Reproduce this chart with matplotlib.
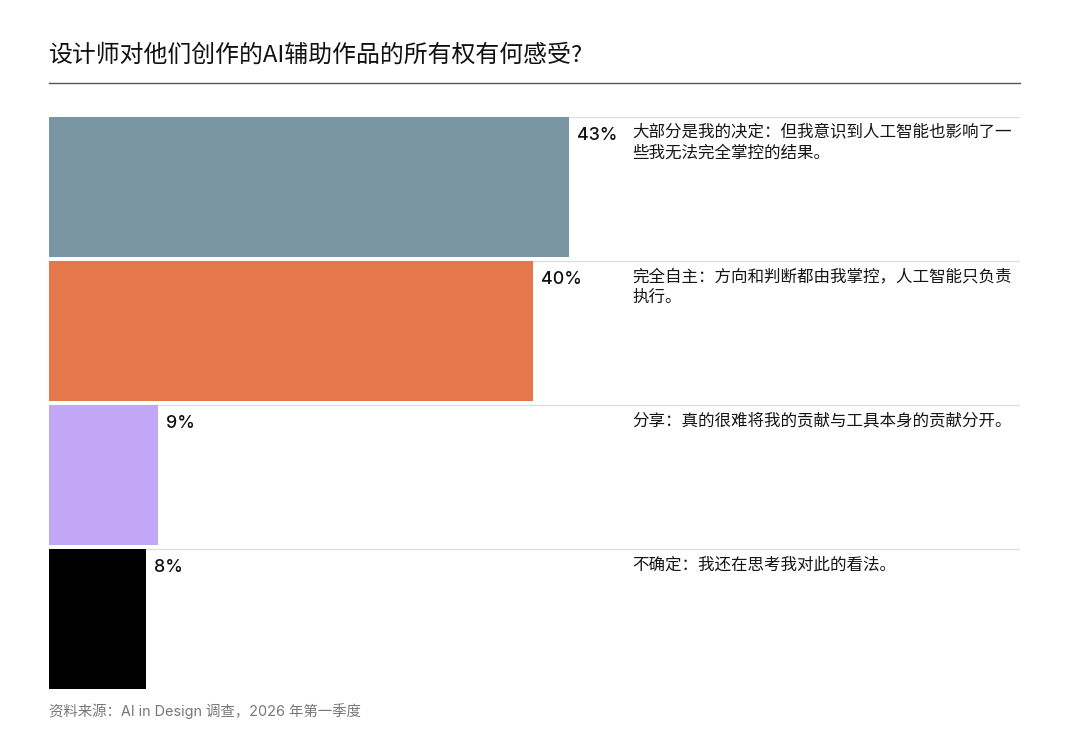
import matplotlib
matplotlib.use('Agg')
import matplotlib.pyplot as plt

plt.rcParams['font.family'] = ['Noto Sans CJK SC', 'DejaVu Sans']

# data
categories = [
    "大部分是我的决定：但我意识到人工智能也影响了一\n些我无法完全掌控的结果。",
    "完全自主：方向和判断都由我掌控，人工智能只负责\n执行。",
    "分享：真的很难将我的贡献与工具本身的贡献分开。",
    "不确定：我还在思考我对此的看法。",
]
values = [43, 40, 9, 8]
labels = ["43%", "40%", "9%", "8%"]
colors = ["#7a96a3", "#e5784a", "#c3a7f7", "#000000"]

title = "设计师对他们创作的AI辅助作品的所有权有何感受?"
source = "资料来源：AI in Design 调查，2026 年第一季度"

W, H = 1080, 753
fig = plt.figure(figsize=(W / 100, H / 100), dpi=100)

# axes spans x 49..1020, y 117..693 (pixels)
ax = fig.add_axes([49 / W, (H - 693) / H, (1020 - 49) / W, (693 - 117) / H])
ax.set_xlim(0, 971 / 12.09)
ax.set_ylim(len(values), 0)
ax.axis('off')

for i in range(len(values)):
    ax.axhline(i, color="#dedede", lw=1, zorder=0)
    ax.barh(i, values[i], height=0.975, align='edge', color=colors[i], zorder=2)
    ax.annotate(labels[i], (values[i], i + 0.072), xytext=(8, 0),
                textcoords='offset pixels', va='top', ha='left',
                fontsize=12.8, fontweight='medium', color="#111111",
                family=['Inter', 'DejaVu Sans'])
    ax.text((632 - 49) / 12.09, i + 0.05, categories[i], va='top', ha='left',
            fontsize=11.9, fontweight='medium', color="#151515", linespacing=1.25)

fig.text(49 / W, 1 - 55 / H, title, fontsize=17.2, fontweight='medium',
         va='center', ha='left', color="#111111")
fig.add_artist(plt.Line2D([49 / W, 1020 / W], [1 - 83 / H, 1 - 83 / H],
                          color="#555555", lw=1))
fig.text(49 / W, 1 - 711 / H, source, fontsize=10.4, va='center', ha='left',
         color="#777777", family=['Inter', 'Noto Sans CJK SC'])

fig.savefig("out.png", dpi=100, facecolor='white')
